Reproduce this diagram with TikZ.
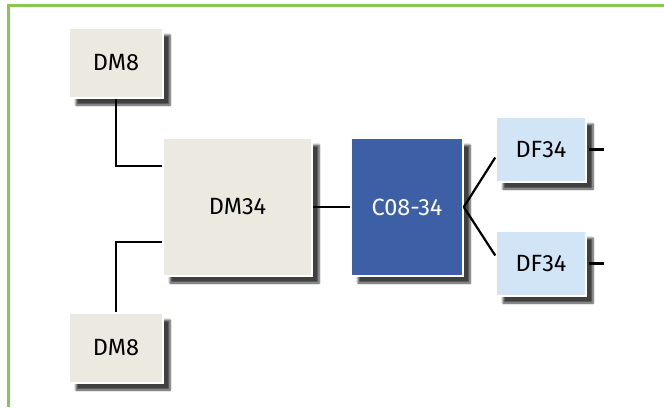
\documentclass[tikz,border=0pt]{standalone}
\usepackage{fontspec}
\setmainfont{Fira Sans}
\usepackage{xcolor}
\usetikzlibrary{shadows.blur}

\definecolor{frameGreen}{HTML}{8CC450}
\definecolor{dmBeige}{HTML}{ECEAE0}
\definecolor{dfBlue}{HTML}{D2E5F7}
\definecolor{coBlue}{HTML}{3C5FA6}

\tikzset{
  unit/.style={draw=white, line width=1.5pt, minimum width=#1, inner sep=0pt,
    font=\fontsize{23.5}{26}\selectfont,
    blur shadow={shadow xshift=7pt, shadow yshift=-7pt, shadow blur radius=2pt,
      shadow blur steps=6, shadow opacity=75}},
  dmbox/.style={unit=#1, fill=dmBeige},
  dfbox/.style={unit=90pt, fill=dfBlue, minimum height=65pt},
  cobox/.style={unit=112pt, fill=coBlue, text=white, minimum height=138pt},
  wire/.style={line width=2.2pt, black}
}

\begin{document}
\begin{tikzpicture}[x=1pt,y=-1pt]
    \useasboundingbox (0,0) rectangle (664,407);
    \draw[frameGreen, line width=3pt] (8,407)--(8,5.5)--(664,5.5);

    \node[dmbox=94pt, minimum height=70pt] (dmA) at (116,63) {DM8};
    \node[dmbox=94pt, minimum height=70pt] (dmB) at (116,348) {DM8};
    \node[dmbox=149pt, minimum height=138pt] (dm34) at (237.5,207) {DM34};
    \node[cobox] (co) at (407,207) {C08-34};
    \node[dfbox] (dfA) at (541,149.5) {DF34};
    \node[dfbox] (dfB) at (541,263.5) {DF34};

    \coordinate (outA) at ([xshift=17pt]dfA.east);
    \coordinate (outB) at ([xshift=17pt]dfB.east);

    \draw[wire] (dmA.south) |- ([yshift=41pt]dm34.west);
    \draw[wire] (dmB.north) |- ([yshift=-35pt]dm34.west);
    \draw[wire] (dm34.east) -- (co.west);
    \draw[wire] (co.east) -- ([yshift=-8pt]dfA.west);
    \draw[wire] (co.east) -- ([yshift=8pt]dfB.west);
    \draw[wire] ([xshift=2pt]dfA.east) -- (outA);
    \draw[wire] ([xshift=2pt]dfB.east) -- (outB);
\end{tikzpicture}
\end{document}
